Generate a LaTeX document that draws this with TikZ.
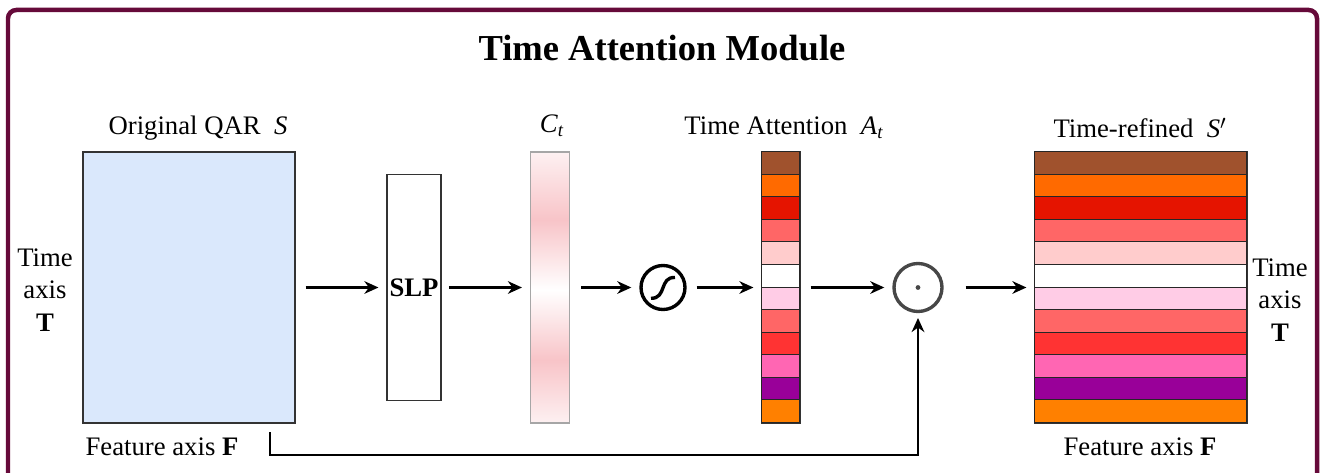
\documentclass[tikz,border=0pt]{standalone}
\usepackage{fontspec}
\setmainfont{Liberation Serif}
\usepackage{tikz}
\usetikzlibrary{arrows.meta,positioning,calc}
\usepackage{xcolor}
\definecolor{frame}{HTML}{660A3A}
\definecolor{qarblue}{HTML}{DAE8FC}
\definecolor{ctpink}{HTML}{F8C4C8}
\definecolor{st1}{HTML}{A0522D}
\definecolor{st2}{HTML}{FF6A00}
\definecolor{st3}{HTML}{E51400}
\definecolor{st4}{HTML}{FF6666}
\definecolor{st5}{HTML}{FFCCCC}
\definecolor{st6}{HTML}{FFFFFF}
\definecolor{st7}{HTML}{FFCCE6}
\definecolor{st8}{HTML}{FF6666}
\definecolor{st9}{HTML}{FF3333}
\definecolor{st10}{HTML}{FF66B3}
\definecolor{st11}{HTML}{990099}
\definecolor{st12}{HTML}{FF8000}
\def\stripes{st1,st2,st3,st4,st5,st6,st7,st8,st9,st10,st11,st12}
\newcommand{\tvar}[2]{\textit{#1}\textsubscript{\textit{#2}}}

\begin{document}
\begin{tikzpicture}[
      lbl/.style={font=\fontsize{19}{23}\selectfont, inner sep=1pt},
      box/.style={draw=black!80, line width=0.8pt, inner sep=0pt},
      arr/.style={-{Stealth[length=10pt, width=9pt]}, line width=1.9pt,
                  shorten <=0.25cm, shorten >=0.2cm},
      op/.style={circle, line width=2.4pt, inner sep=0pt}
    ]
      \useasboundingbox (0,0) rectangle (33.125,11.8);
      \draw[frame, line width=3.2pt, rounded corners=6pt] (0.2,11.55) rectangle (32.925,-0.5);
      \node[font=\fontsize{26}{30}\selectfont\bfseries] (title) at (16.55,10.6) {Time Attention Module};

      % input QAR
      \node[box, fill=qarblue, minimum width=5.3cm, minimum height=6.775cm] (S) at (4.725,4.6125) {};
      \node[lbl] (Slbl) at (4.95,8.6) {Original QAR~ \textit{S}};
      \node[lbl, align=center] (Tin) at (1.125,4.55) {Time\\axis\\\textbf{T}};
      \node[lbl] (Fin) at (4.05,0.62) {Feature axis \textbf{F}};

      % SLP
      \node[box, minimum width=1.35cm, minimum height=5.65cm, font=\fontsize{19}{23}\selectfont\bfseries] (slp) at (10.35,4.6125) {SLP};

      % C_t
      \shade[bottom color=ctpink!25, top color=ctpink] (13.2625,1.225) rectangle (14.2375,2.8);
      \shade[bottom color=ctpink, top color=white] (13.2625,2.8) rectangle (14.2375,4.55);
      \shade[bottom color=white, top color=ctpink] (13.2625,4.55) rectangle (14.2375,6.3);
      \shade[bottom color=ctpink, top color=ctpink!25] (13.2625,6.3) rectangle (14.2375,8.0);
      \node[box, draw=gray!70, minimum width=0.975cm, minimum height=6.775cm] (C) at (13.75,4.6125) {};
      \node[lbl] (Clbl) at (13.8,8.65) {\tvar{C}{t}};

      % sigmoid
      \node[op, draw=black, minimum size=1.1cm] (sig) at (16.575,4.6125) {};
      \draw[line width=2.4pt] ($(sig)+(-0.3,-0.27)$) .. controls ($(sig)+(0.1,-0.28)$) and ($(sig)+(-0.1,0.27)$) .. ($(sig)+(0.3,0.25)$);

      % attention A_t
      \node[box, minimum width=0.95cm, minimum height=6.775cm] (A) at (19.525,4.6125) {};
      \foreach \c [count=\i from 0] in \stripes
        \filldraw[fill=\c, draw=black!85, line width=0.6pt] ($(A.north west)+(0,-\i*0.5646)$) rectangle ++(0.95,-0.5646);
      \node[lbl] (Albl) at (19.6,8.6) {Time Attention~ \tvar{A}{t}};

      % product
      \node[op, draw=black!72, minimum size=1.2cm] (odot) at (22.95,4.6125) {};
      \fill[black!72] (odot) circle (1.7pt);

      % refined S'
      \node[box, minimum width=5.3cm, minimum height=6.775cm] (R) at (28.525,4.6125) {};
      \foreach \c [count=\i from 0] in \stripes
        \filldraw[fill=\c, draw=black!85, line width=0.6pt] ($(R.north west)+(0,-\i*0.5646)$) rectangle ++(5.3,-0.5646);
      \node[lbl] (Rlbl) at (28.5,8.6) {Time-refined~ \textit{S}$'$};
      \node[lbl, align=center] (Tout) at (32.0,4.3) {Time\\axis\\\textbf{T}};
      \node[lbl] (Fout) at (28.5,0.62) {Feature axis \textbf{F}};

      % flow
      \draw[arr] (S) -- (slp);
      \draw[arr, shorten <=0.18cm] (slp) -- (C);
      \draw[arr, shorten <=0.28cm] (C) -- (sig);
      \draw[arr] (sig) -- (A);
      \draw[arr] (A) -- (odot);
      \draw[arr, shorten <=0.55cm] (odot) -- (R);

      % skip path
      \coordinate (fbstart) at (6.75,1.0);
      \coordinate (fbturn) at (6.75,0.425);
      \draw[arr, shorten <=0pt, shorten >=0.12cm] (fbstart) -- (fbturn) -| (odot.south);
    \end{tikzpicture}
\end{document}
